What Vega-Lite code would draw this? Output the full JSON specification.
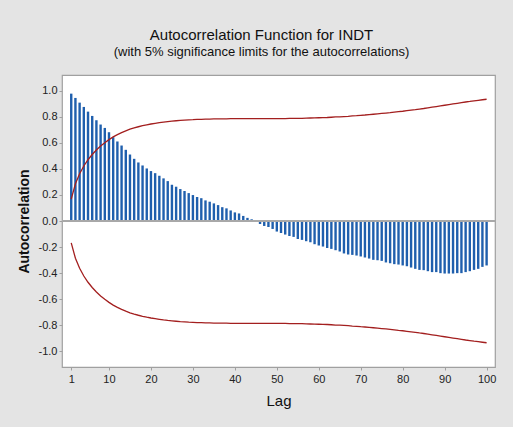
{
  "$schema": "https://vega.github.io/schema/vega-lite/v6.json",
  "width": 433,
  "height": 292,
  "autosize": {"type": "none"},
  "padding": {"left": 62, "top": 75, "right": 18, "bottom": 60},
  "background": "#e4e4e4",
  "title": {
    "text": "Autocorrelation Function for INDT",
    "subtitle": "(with 5% significance limits for the autocorrelations)",
    "anchor": "middle",
    "dx": -17,
    "offset": 16,
    "font": "Liberation Sans",
    "fontSize": 15,
    "fontWeight": "normal",
    "color": "#111111",
    "subtitleFont": "Liberation Sans",
    "subtitleFontSize": 13,
    "subtitleColor": "#111111",
    "subtitlePadding": 3
  },
  "config": {
    "view": {"stroke": "#a0a0a0", "strokeWidth": 1.2, "fill": "white"},
    "axis": {
      "domain": false,
      "grid": false,
      "tickColor": "#a0a0a0",
      "tickSize": 3,
      "labelFont": "Liberation Sans",
      "labelFontSize": 11,
      "labelColor": "#222222",
      "labelOverlap": false,
      "titleColor": "#111111"
    },
    "axisY": {
      "values": [-1, -0.8, -0.6, -0.4, -0.2, 0, 0.2, 0.4, 0.6, 0.8, 1],
      "labelExpr": "replace(format(datum.value, '.1f'), '\u2212', '-')",
      "titleFont": "Liberation Sans",
      "titleFontSize": 14,
      "titleFontWeight": "bold",
      "titlePadding": 7,
      "labelPadding": 2
    }
  },
  "data": {
    "values": [
      {"lag": 1, "acf": 0.977, "ucl": 0.168, "lcl": -0.168},
      {"lag": 2, "acf": 0.944, "ucl": 0.286, "lcl": -0.286},
      {"lag": 3, "acf": 0.908, "ucl": 0.363, "lcl": -0.363},
      {"lag": 4, "acf": 0.875, "ucl": 0.422, "lcl": -0.422},
      {"lag": 5, "acf": 0.839, "ucl": 0.470, "lcl": -0.470},
      {"lag": 6, "acf": 0.806, "ucl": 0.510, "lcl": -0.510},
      {"lag": 7, "acf": 0.773, "ucl": 0.545, "lcl": -0.545},
      {"lag": 8, "acf": 0.740, "ucl": 0.575, "lcl": -0.575},
      {"lag": 9, "acf": 0.714, "ucl": 0.601, "lcl": -0.601},
      {"lag": 10, "acf": 0.681, "ucl": 0.624, "lcl": -0.624},
      {"lag": 11, "acf": 0.643, "ucl": 0.645, "lcl": -0.645},
      {"lag": 12, "acf": 0.610, "ucl": 0.663, "lcl": -0.663},
      {"lag": 13, "acf": 0.579, "ucl": 0.678, "lcl": -0.678},
      {"lag": 14, "acf": 0.546, "ucl": 0.692, "lcl": -0.692},
      {"lag": 15, "acf": 0.510, "ucl": 0.704, "lcl": -0.704},
      {"lag": 16, "acf": 0.477, "ucl": 0.714, "lcl": -0.714},
      {"lag": 17, "acf": 0.449, "ucl": 0.723, "lcl": -0.723},
      {"lag": 18, "acf": 0.426, "ucl": 0.731, "lcl": -0.731},
      {"lag": 19, "acf": 0.403, "ucl": 0.738, "lcl": -0.738},
      {"lag": 20, "acf": 0.383, "ucl": 0.744, "lcl": -0.744},
      {"lag": 21, "acf": 0.367, "ucl": 0.749, "lcl": -0.749},
      {"lag": 22, "acf": 0.347, "ucl": 0.754, "lcl": -0.754},
      {"lag": 23, "acf": 0.327, "ucl": 0.759, "lcl": -0.759},
      {"lag": 24, "acf": 0.306, "ucl": 0.763, "lcl": -0.763},
      {"lag": 25, "acf": 0.278, "ucl": 0.766, "lcl": -0.766},
      {"lag": 26, "acf": 0.263, "ucl": 0.769, "lcl": -0.769},
      {"lag": 27, "acf": 0.245, "ucl": 0.772, "lcl": -0.772},
      {"lag": 28, "acf": 0.230, "ucl": 0.774, "lcl": -0.774},
      {"lag": 29, "acf": 0.214, "ucl": 0.776, "lcl": -0.776},
      {"lag": 30, "acf": 0.199, "ucl": 0.777, "lcl": -0.777},
      {"lag": 31, "acf": 0.184, "ucl": 0.779, "lcl": -0.779},
      {"lag": 32, "acf": 0.175, "ucl": 0.780, "lcl": -0.780},
      {"lag": 33, "acf": 0.158, "ucl": 0.781, "lcl": -0.781},
      {"lag": 34, "acf": 0.148, "ucl": 0.782, "lcl": -0.782},
      {"lag": 35, "acf": 0.135, "ucl": 0.783, "lcl": -0.783},
      {"lag": 36, "acf": 0.122, "ucl": 0.783, "lcl": -0.783},
      {"lag": 37, "acf": 0.106, "ucl": 0.784, "lcl": -0.784},
      {"lag": 38, "acf": 0.097, "ucl": 0.784, "lcl": -0.784},
      {"lag": 39, "acf": 0.081, "ucl": 0.785, "lcl": -0.785},
      {"lag": 40, "acf": 0.066, "ucl": 0.785, "lcl": -0.785},
      {"lag": 41, "acf": 0.058, "ucl": 0.785, "lcl": -0.785},
      {"lag": 42, "acf": 0.039, "ucl": 0.785, "lcl": -0.785},
      {"lag": 43, "acf": 0.024, "ucl": 0.785, "lcl": -0.785},
      {"lag": 44, "acf": 0.013, "ucl": 0.785, "lcl": -0.785},
      {"lag": 45, "acf": 0.004, "ucl": 0.785, "lcl": -0.785},
      {"lag": 46, "acf": -0.023, "ucl": 0.785, "lcl": -0.785},
      {"lag": 47, "acf": -0.038, "ucl": 0.785, "lcl": -0.785},
      {"lag": 48, "acf": -0.046, "ucl": 0.785, "lcl": -0.785},
      {"lag": 49, "acf": -0.061, "ucl": 0.785, "lcl": -0.785},
      {"lag": 50, "acf": -0.081, "ucl": 0.786, "lcl": -0.786},
      {"lag": 51, "acf": -0.092, "ucl": 0.786, "lcl": -0.786},
      {"lag": 52, "acf": -0.104, "ucl": 0.786, "lcl": -0.786},
      {"lag": 53, "acf": -0.115, "ucl": 0.787, "lcl": -0.787},
      {"lag": 54, "acf": -0.122, "ucl": 0.787, "lcl": -0.787},
      {"lag": 55, "acf": -0.138, "ucl": 0.788, "lcl": -0.788},
      {"lag": 56, "acf": -0.145, "ucl": 0.788, "lcl": -0.788},
      {"lag": 57, "acf": -0.155, "ucl": 0.789, "lcl": -0.789},
      {"lag": 58, "acf": -0.163, "ucl": 0.790, "lcl": -0.790},
      {"lag": 59, "acf": -0.178, "ucl": 0.791, "lcl": -0.791},
      {"lag": 60, "acf": -0.188, "ucl": 0.792, "lcl": -0.792},
      {"lag": 61, "acf": -0.196, "ucl": 0.793, "lcl": -0.793},
      {"lag": 62, "acf": -0.207, "ucl": 0.794, "lcl": -0.794},
      {"lag": 63, "acf": -0.214, "ucl": 0.796, "lcl": -0.796},
      {"lag": 64, "acf": -0.224, "ucl": 0.798, "lcl": -0.798},
      {"lag": 65, "acf": -0.234, "ucl": 0.799, "lcl": -0.799},
      {"lag": 66, "acf": -0.249, "ucl": 0.801, "lcl": -0.801},
      {"lag": 67, "acf": -0.257, "ucl": 0.803, "lcl": -0.803},
      {"lag": 68, "acf": -0.260, "ucl": 0.806, "lcl": -0.806},
      {"lag": 69, "acf": -0.265, "ucl": 0.808, "lcl": -0.808},
      {"lag": 70, "acf": -0.272, "ucl": 0.811, "lcl": -0.811},
      {"lag": 71, "acf": -0.280, "ucl": 0.813, "lcl": -0.813},
      {"lag": 72, "acf": -0.288, "ucl": 0.816, "lcl": -0.816},
      {"lag": 73, "acf": -0.298, "ucl": 0.819, "lcl": -0.819},
      {"lag": 74, "acf": -0.301, "ucl": 0.822, "lcl": -0.822},
      {"lag": 75, "acf": -0.306, "ucl": 0.825, "lcl": -0.825},
      {"lag": 76, "acf": -0.318, "ucl": 0.828, "lcl": -0.828},
      {"lag": 77, "acf": -0.324, "ucl": 0.831, "lcl": -0.831},
      {"lag": 78, "acf": -0.331, "ucl": 0.835, "lcl": -0.835},
      {"lag": 79, "acf": -0.334, "ucl": 0.839, "lcl": -0.839},
      {"lag": 80, "acf": -0.341, "ucl": 0.842, "lcl": -0.842},
      {"lag": 81, "acf": -0.347, "ucl": 0.846, "lcl": -0.846},
      {"lag": 82, "acf": -0.357, "ucl": 0.850, "lcl": -0.850},
      {"lag": 83, "acf": -0.367, "ucl": 0.854, "lcl": -0.854},
      {"lag": 84, "acf": -0.375, "ucl": 0.859, "lcl": -0.859},
      {"lag": 85, "acf": -0.377, "ucl": 0.863, "lcl": -0.863},
      {"lag": 86, "acf": -0.385, "ucl": 0.868, "lcl": -0.868},
      {"lag": 87, "acf": -0.392, "ucl": 0.873, "lcl": -0.873},
      {"lag": 88, "acf": -0.392, "ucl": 0.878, "lcl": -0.878},
      {"lag": 89, "acf": -0.400, "ucl": 0.883, "lcl": -0.883},
      {"lag": 90, "acf": -0.403, "ucl": 0.888, "lcl": -0.888},
      {"lag": 91, "acf": -0.403, "ucl": 0.893, "lcl": -0.893},
      {"lag": 92, "acf": -0.403, "ucl": 0.898, "lcl": -0.898},
      {"lag": 93, "acf": -0.400, "ucl": 0.903, "lcl": -0.903},
      {"lag": 94, "acf": -0.400, "ucl": 0.908, "lcl": -0.908},
      {"lag": 95, "acf": -0.392, "ucl": 0.913, "lcl": -0.913},
      {"lag": 96, "acf": -0.385, "ucl": 0.917, "lcl": -0.917},
      {"lag": 97, "acf": -0.375, "ucl": 0.922, "lcl": -0.922},
      {"lag": 98, "acf": -0.367, "ucl": 0.926, "lcl": -0.926},
      {"lag": 99, "acf": -0.352, "ucl": 0.930, "lcl": -0.930},
      {"lag": 100, "acf": -0.341, "ucl": 0.934, "lcl": -0.934}
    ]
  },
  "encoding": {
    "x": {
      "field": "lag",
      "type": "quantitative",
      "scale": {"domain": [-1.2, 102], "nice": false, "zero": false},
      "axis": {
        "values": [1, 10, 20, 30, 40, 50, 60, 70, 80, 90, 100],
        "title": "Lag",
        "titleFont": "Liberation Sans",
        "titleFontSize": 15,
        "titleFontWeight": "normal",
        "titlePadding": 9,
        "labelPadding": 3
      }
    }
  },
  "layer": [
    {
      "mark": {"type": "rule", "color": "#1f5fad", "strokeWidth": 2.4},
      "encoding": {
        "y": {
          "field": "acf",
          "type": "quantitative",
          "title": "Autocorrelation",
          "scale": {"domain": [-1.12, 1.12], "nice": false}
        },
        "y2": {"datum": 0}
      }
    },
    {
      "mark": {"type": "rule", "color": "#a8a8a8", "strokeWidth": 1},
      "encoding": {"x": null, "y": {"datum": 0, "title": "Autocorrelation"}}
    },
    {
      "mark": {"type": "line", "color": "#a31f1f", "strokeWidth": 1.3},
      "encoding": {"y": {"field": "ucl", "type": "quantitative", "title": "Autocorrelation"}}
    },
    {
      "mark": {"type": "line", "color": "#a31f1f", "strokeWidth": 1.3},
      "encoding": {"y": {"field": "lcl", "type": "quantitative", "title": "Autocorrelation"}}
    }
  ]
}
